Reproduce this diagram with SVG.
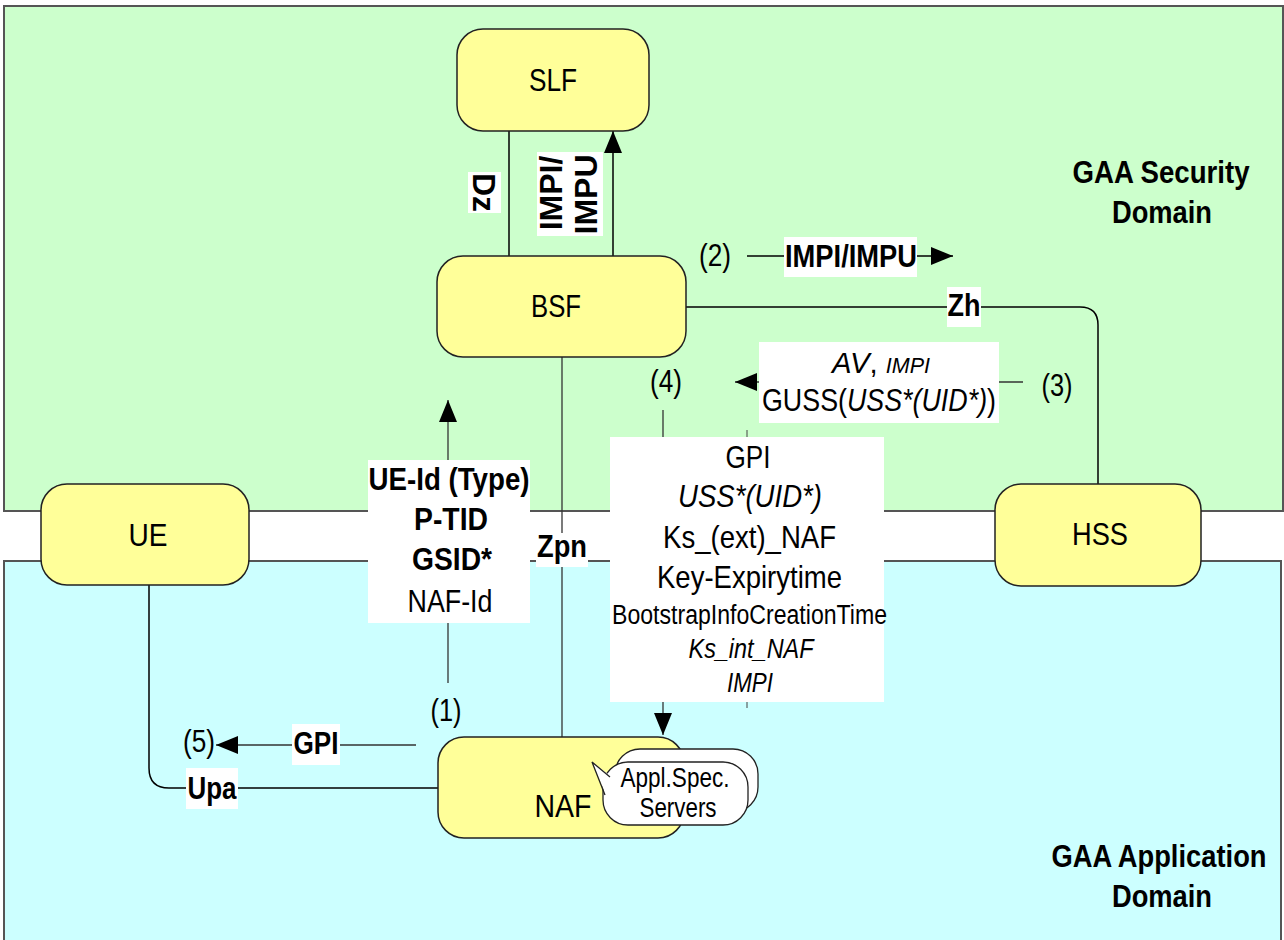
<svg xmlns="http://www.w3.org/2000/svg" width="1284" height="940" viewBox="0 0 1284 940">
<defs>
<style>
text{font-family:"Liberation Sans",Arial,sans-serif;fill:#000}
.n{font-size:32px}
.b{font-size:32px;font-weight:bold}
.i{font-style:italic}
.node{fill:#FFFF99;stroke:#222;stroke-width:1.5}
.ln{fill:none;stroke:#000;stroke-width:1.5}
.lg{fill:none;stroke:#333;stroke-width:1.3}
.bg{fill:#fff}
.srv{fill:#fff;stroke:#222;stroke-width:1.3}
</style>
<marker id="ah" viewBox="0 0 22 18" refX="22" refY="9" markerWidth="22" markerHeight="18" markerUnits="userSpaceOnUse" orient="auto"><path d="M0,0 L22,9 L0,18 z" fill="#000"/></marker>
</defs>

<g id="security-domain">
<rect x="4" y="6" width="1279" height="505" fill="#CCFFCC" stroke="#555" stroke-width="2"/>
<text class="b" font-size="31" x="1161" y="183" text-anchor="middle" textLength="177" lengthAdjust="spacingAndGlyphs">GAA Security</text>
<text class="b" font-size="31" x="1162" y="223" text-anchor="middle" textLength="100" lengthAdjust="spacingAndGlyphs">Domain</text>
</g>
<g id="application-domain">
<rect x="4" y="561" width="1277" height="390" fill="#CCFFFF" stroke="#555" stroke-width="2"/>
<text class="b" font-size="31" x="1159" y="867" text-anchor="middle" textLength="215" lengthAdjust="spacingAndGlyphs">GAA Application</text>
<text class="b" font-size="31" x="1162" y="907" text-anchor="middle" textLength="100" lengthAdjust="spacingAndGlyphs">Domain</text>
</g>

<g id="connectors">
<line id="dz" x1="509" y1="131" x2="509" y2="256" class="ln"/>
<line id="impi-up" x1="613" y1="256" x2="613" y2="131" class="ln" marker-end="url(#ah)"/>
<line id="step2" x1="747" y1="256" x2="953" y2="256" class="ln" marker-end="url(#ah)"/>
<path id="zh" d="M686,307 H1080 Q1098,307 1098,325 V484" class="ln"/>
<line id="step3" x1="1023" y1="382" x2="735" y2="382" class="lg" marker-end="url(#ah)"/>
<line id="step4" x1="663" y1="410" x2="663" y2="735" class="lg" marker-end="url(#ah)"/>
<line id="step4b" x1="747" y1="430" x2="747" y2="708" stroke="#444" stroke-width="1"/>
<line id="zpn" x1="562" y1="357" x2="562" y2="737" class="lg"/>
<line id="step1" x1="448" y1="683" x2="448" y2="400" class="lg" marker-end="url(#ah)"/>
<line id="step5" x1="416" y1="745" x2="216" y2="745" class="lg" marker-end="url(#ah)"/>
<path id="upa" d="M149,585 V768 Q149,788 169,788 H438" class="ln"/>
</g>

<g id="labels">
<rect class="bg" x="468" y="172" width="33" height="41"/>
<text class="b" font-size="31" transform="translate(473,192.5) rotate(90)" text-anchor="middle">Dz</text>
<rect class="bg" x="537" y="152" width="66" height="84"/>
<text class="b" font-size="31" transform="translate(562,193) rotate(-90)" text-anchor="middle">IMPI/</text>
<text class="b" font-size="31" transform="translate(597,194.5) rotate(-90)" text-anchor="middle">IMPU</text>

<text class="n" font-size="31" x="715" y="266" text-anchor="middle" textLength="32" lengthAdjust="spacingAndGlyphs">(2)</text>
<rect class="bg" x="784" y="237" width="133" height="40"/>
<text class="b" font-size="34" x="851" y="267" text-anchor="middle" textLength="132" lengthAdjust="spacingAndGlyphs">IMPI/IMPU</text>

<rect class="bg" x="947" y="287" width="34" height="40"/>
<text class="b" font-size="33" x="964" y="316" text-anchor="middle" textLength="33" lengthAdjust="spacingAndGlyphs">Zh</text>

<text class="n" font-size="31" x="1057" y="396" text-anchor="middle" textLength="31" lengthAdjust="spacingAndGlyphs">(3)</text>
<text class="n" font-size="31" x="666" y="392" text-anchor="middle" textLength="32" lengthAdjust="spacingAndGlyphs">(4)</text>

<rect class="bg" x="759" y="342" width="240" height="81"/>
<text x="881" y="373" text-anchor="middle" textLength="98" lengthAdjust="spacingAndGlyphs" font-size="30"><tspan class="i">AV</tspan>, <tspan class="i" font-size="22">IMPI</tspan></text>
<text class="n" x="879" y="411" text-anchor="middle" textLength="234" lengthAdjust="spacingAndGlyphs">GUSS(<tspan class="i">USS*(UID*)</tspan>)</text>

<rect class="bg" x="610" y="437" width="274" height="265"/>
<text class="n" x="748" y="468" text-anchor="middle" textLength="45" lengthAdjust="spacingAndGlyphs">GPI</text>
<text class="n i" x="750" y="507" text-anchor="middle" textLength="144" lengthAdjust="spacingAndGlyphs">USS*(UID*)</text>
<text class="n" x="749.5" y="548" text-anchor="middle" textLength="173" lengthAdjust="spacingAndGlyphs">Ks_(ext)_NAF</text>
<text class="n" x="749.5" y="588" text-anchor="middle" textLength="185" lengthAdjust="spacingAndGlyphs">Key-Expirytime</text>
<text font-size="27" x="749.5" y="624" text-anchor="middle" textLength="275" lengthAdjust="spacingAndGlyphs">BootstrapInfoCreationTime</text>
<text class="i" font-size="28" x="751" y="658" text-anchor="middle" textLength="125" lengthAdjust="spacingAndGlyphs">Ks_int_NAF</text>
<text class="i" font-size="27" x="750" y="692" text-anchor="middle" textLength="46" lengthAdjust="spacingAndGlyphs">IMPI</text>

<rect class="bg" x="368" y="460" width="162" height="163"/>
<text class="b" x="449" y="490" text-anchor="middle" textLength="161" lengthAdjust="spacingAndGlyphs">UE-Id (Type)</text>
<text class="b" x="451" y="530" text-anchor="middle" textLength="74" lengthAdjust="spacingAndGlyphs">P-TID</text>
<text class="b" x="452" y="570" text-anchor="middle" textLength="80" lengthAdjust="spacingAndGlyphs">GSID*</text>
<text class="n" x="450" y="612" text-anchor="middle" textLength="85" lengthAdjust="spacingAndGlyphs">NAF-Id</text>

<rect class="bg" x="536" y="533" width="52" height="34"/>
<text class="b" x="562" y="557" text-anchor="middle" textLength="50" lengthAdjust="spacingAndGlyphs">Zpn</text>

<text class="n" font-size="31" x="446" y="721" text-anchor="middle" textLength="31" lengthAdjust="spacingAndGlyphs">(1)</text>
<text class="n" font-size="31" x="199" y="752" text-anchor="middle" textLength="32" lengthAdjust="spacingAndGlyphs">(5)</text>
<rect class="bg" x="292" y="724" width="48" height="41"/>
<text class="b" x="316" y="754" text-anchor="middle" textLength="45" lengthAdjust="spacingAndGlyphs">GPI</text>
<rect class="bg" x="186" y="768" width="52" height="41"/>
<text class="b" font-size="33" x="212" y="799" text-anchor="middle" textLength="49" lengthAdjust="spacingAndGlyphs">Upa</text>
</g>

<g id="SLF">
<rect class="node" x="457" y="29" width="192" height="102" rx="26" ry="26"/>
<text class="n" font-size="33" x="553" y="91" text-anchor="middle" textLength="48" lengthAdjust="spacingAndGlyphs">SLF</text>
</g>
<g id="BSF">
<rect class="node" x="437" y="256" width="249" height="101" rx="26" ry="26"/>
<text class="n" font-size="33" x="556" y="317" text-anchor="middle" textLength="50" lengthAdjust="spacingAndGlyphs">BSF</text>
</g>
<g id="UE">
<rect class="node" x="41" y="484" width="208" height="101" rx="26" ry="26"/>
<text class="n" font-size="33" x="148" y="546" text-anchor="middle" textLength="39" lengthAdjust="spacingAndGlyphs">UE</text>
</g>
<g id="HSS">
<rect class="node" x="995" y="484" width="206" height="102" rx="26" ry="26"/>
<text class="n" font-size="33" x="1100" y="545" text-anchor="middle" textLength="56" lengthAdjust="spacingAndGlyphs">HSS</text>
</g>
<g id="NAF">
<rect class="node" x="438" y="737" width="246" height="101" rx="26" ry="26"/>
<text class="n" font-size="33" x="563" y="817" text-anchor="middle" textLength="57" lengthAdjust="spacingAndGlyphs">NAF</text>
</g>
<g id="appl-spec-servers">
<rect class="srv" x="615" y="749" width="143" height="63" rx="25" ry="25"/>
<rect class="srv" x="603" y="762" width="145" height="63" rx="25" ry="25"/>
<polygon points="592,762 612,777 612,794 606,795" fill="#fff"/>
<polyline points="610,777 592,762 605,795" fill="none" stroke="#222" stroke-width="1.3"/>
<text font-size="28" x="675" y="787" text-anchor="middle" textLength="109" lengthAdjust="spacingAndGlyphs">Appl.Spec.</text>
<text font-size="28" x="678" y="817" text-anchor="middle" textLength="77" lengthAdjust="spacingAndGlyphs">Servers</text>
</g>
</svg>
